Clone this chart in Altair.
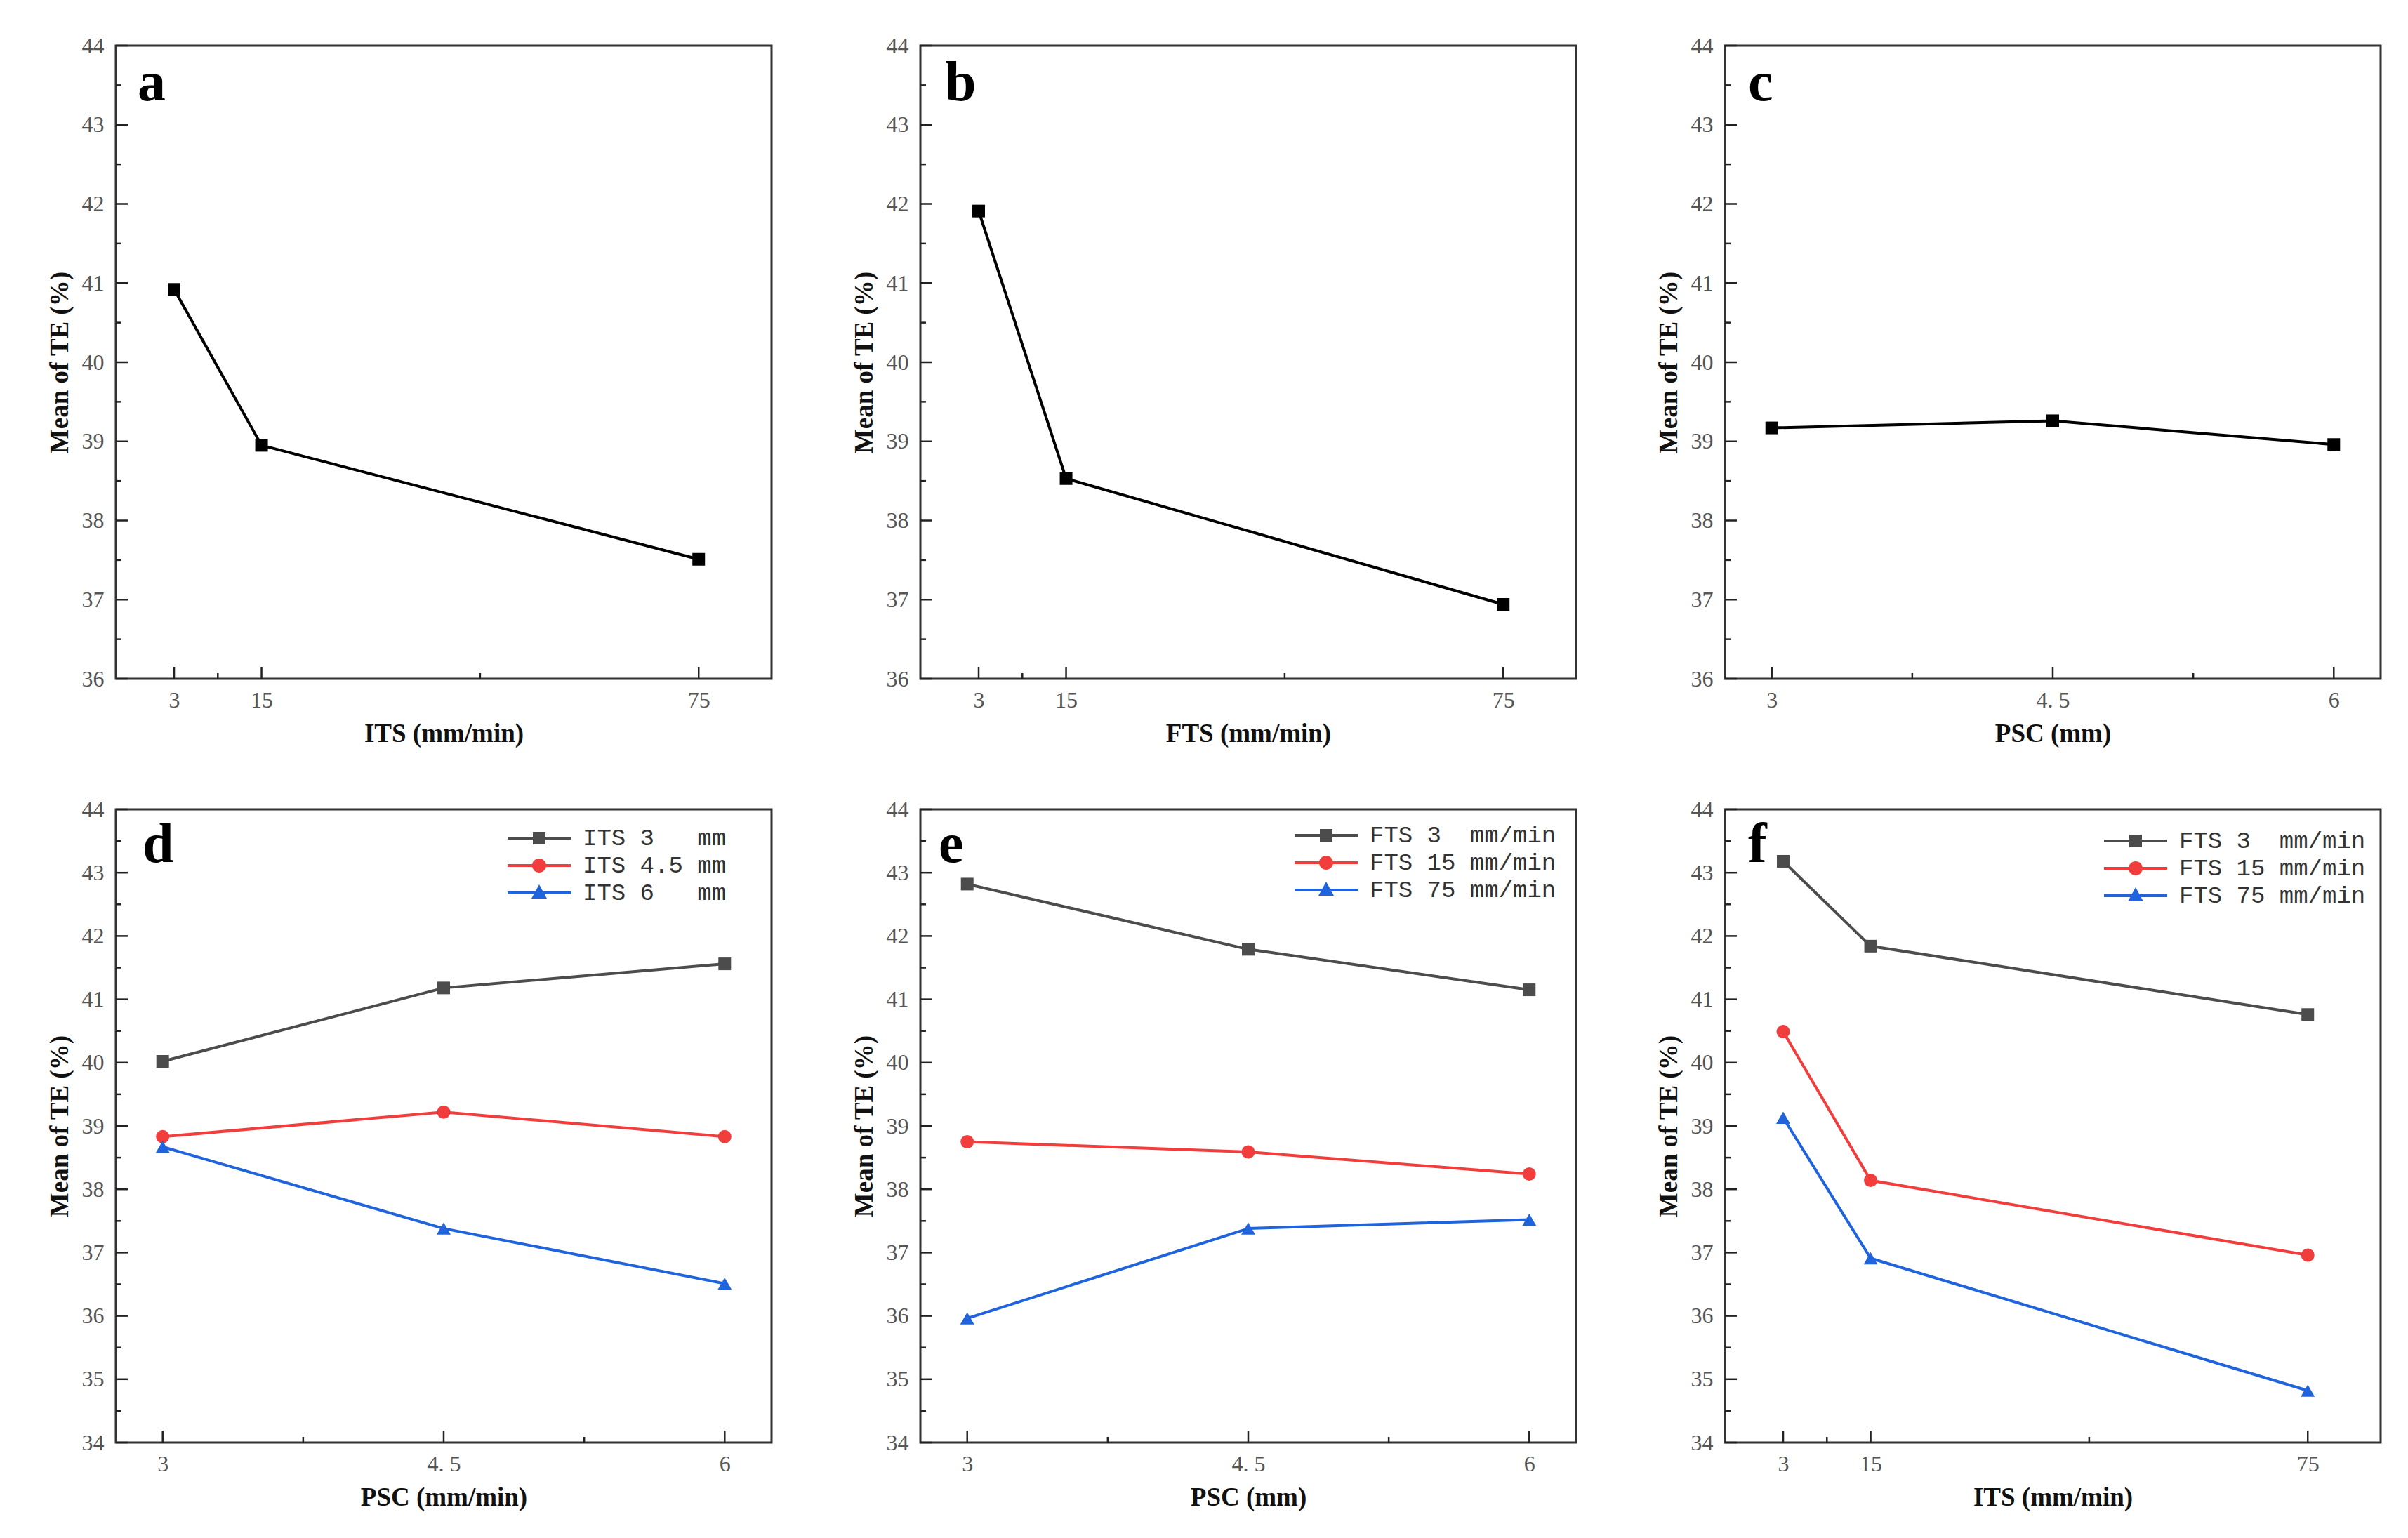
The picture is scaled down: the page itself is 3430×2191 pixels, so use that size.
import altair as alt
import pandas as pd

# ---------------- data ----------------
its_x = [3, 15, 75]
psc_x = [3, 4.5, 6]

its_ticks = [3, 15, 75]
its_minor = [9, 45]
psc_ticks = [3, 4.5, 6]
psc_minor = [3.75, 5.25]

top_y_major = [36, 37, 38, 39, 40, 41, 42, 43, 44]
top_y_minor = [36.5, 37.5, 38.5, 39.5, 40.5, 41.5, 42.5, 43.5]
bot_y_major = [34, 35, 36, 37, 38, 39, 40, 41, 42, 43, 44]
bot_y_minor = [34.5, 35.5, 36.5, 37.5, 38.5, 39.5, 40.5, 41.5, 42.5, 43.5]

a_te = [40.92, 38.95, 37.51]
b_te = [41.91, 38.53, 36.94]
c_te = [39.17, 39.26, 38.96]

NB = "\u00a0"
d_names = ["ITS" + NB + "3" + NB * 3 + "mm",
           "ITS" + NB + "4.5" + NB + "mm",
           "ITS" + NB + "6" + NB * 3 + "mm"]
d_its3 = [40.02, 41.18, 41.56]
d_its45 = [38.83, 39.22, 38.83]
d_its6 = [38.67, 37.38, 36.51]

ef_names = ["FTS" + NB + "3" + NB * 2 + "mm/min",
            "FTS" + NB + "15" + NB + "mm/min",
            "FTS" + NB + "75" + NB + "mm/min"]
e_fts3 = [42.82, 41.79, 41.15]
e_fts15 = [38.75, 38.59, 38.24]
e_fts75 = [35.96, 37.38, 37.52]

f_fts3 = [43.18, 41.84, 40.76]
f_fts15 = [40.49, 38.14, 36.96]
f_fts75 = [39.13, 36.91, 34.82]

series_colors = ["#4c4c4c", "#f23d3d", "#1f64dc"]
marker_shapes = ["square", "circle", "triangle-up"]
marker_sizes = [324, 400, 460]
LINE = "M-4.5,-0.2H4.5V0.2H-4.5Z "
legend_paths = [
    LINE + "M-0.9,-0.9H0.9V0.9H-0.9Z",
    LINE + "M-1,0A1,1 0 1,1 1,0A1,1 0 1,1 -1,0Z",
    LINE + "M0,-1.2L1.1,0.8L-1.1,0.8Z",
]

W, H = 934, 902
FONT = "Liberation Serif"
LABEL_EXPR = "datum.value == 4.5 ? '4. 5' : datum.label"


def panel(letter, letter_dx, letter_dy, xvals, x_domain, x_ticks, x_minor, x_title,
          y_domain, y_major, y_minor, series_vals, names=None, legend_xy=None):
    xscale = alt.Scale(domain=x_domain, nice=False, zero=False)
    yscale = alt.Scale(domain=y_domain, nice=False, zero=False)
    xaxis = alt.Axis(values=x_ticks, title=x_title, labelExpr=LABEL_EXPR)
    yaxis = alt.Axis(values=y_major, title="Mean of TE (%)", format="d")
    X = alt.X("x:Q", scale=xscale, axis=xaxis)
    Y = alt.Y("y:Q", scale=yscale, axis=yaxis)

    layers = []
    # inward ticks
    layers.append(alt.Chart(pd.DataFrame({"y": y_major})).mark_rule(color="#222", strokeWidth=2.5)
                  .encode(y=Y, x=alt.value(0), x2=alt.value(17)))
    layers.append(alt.Chart(pd.DataFrame({"y": y_minor})).mark_rule(color="#222", strokeWidth=2.5)
                  .encode(y=Y, x=alt.value(0), x2=alt.value(8)))
    layers.append(alt.Chart(pd.DataFrame({"x": x_ticks})).mark_rule(color="#222", strokeWidth=2.5)
                  .encode(x=X, y=alt.value(H), y2=alt.value(H - 17)))
    layers.append(alt.Chart(pd.DataFrame({"x": x_minor})).mark_rule(color="#222", strokeWidth=2.5)
                  .encode(x=X, y=alt.value(H), y2=alt.value(H - 8)))

    if names is None:
        df = pd.DataFrame({"x": xvals, "y": series_vals[0]})
        layers.append(alt.Chart(df).mark_line(color="black", strokeWidth=4).encode(x=X, y=Y))
        layers.append(alt.Chart(df).mark_point(shape="square", filled=True, size=324,
                                               color="black", opacity=1).encode(x=X, y=Y))
        ch = alt.layer(*layers)
    else:
        rows = []
        for n, vals in zip(names, series_vals):
            for xv, yv in zip(xvals, vals):
                rows.append({"x": xv, "y": yv, "series": n})
        df = pd.DataFrame(rows)
        cscale = alt.Scale(domain=names, range=series_colors)
        layers.append(alt.Chart(df).mark_line(strokeWidth=4).encode(
            x=X, y=Y, color=alt.Color("series:N", scale=cscale, legend=None)))
        layers.append(alt.Chart(df).mark_point(filled=True, opacity=1).encode(
            x=X, y=Y,
            color=alt.Color("series:N", scale=cscale, legend=None),
            shape=alt.Shape("series:N", scale=alt.Scale(domain=names, range=marker_shapes), legend=None),
            size=alt.Size("series:N", scale=alt.Scale(domain=names, range=marker_sizes), legend=None)))
        leg = alt.Legend(title=None, orient="none", legendX=legend_xy[0], legendY=legend_xy[1],
                         labelFont="Liberation Mono", labelFontSize=34, labelColor="#333",
                         labelOffset=45, labelLimit=600, symbolSize=400, symbolStrokeWidth=0,
                         rowPadding=5, padding=0)
        layers.append(alt.Chart(df).transform_filter("false").mark_point(filled=True, opacity=1, size=400)
                      .encode(x=X, y=Y,
                              color=alt.Color("series:N", scale=alt.Scale(domain=names, range=series_colors), legend=leg),
                              shape=alt.Shape("series:N", scale=alt.Scale(domain=names, range=legend_paths), legend=leg)))
        ch = alt.layer(*layers).resolve_scale(color="independent", shape="independent", size="independent")

    return ch.properties(
        width=W, height=H,
        title=alt.Title(letter, anchor="start", orient="top", frame="group", offset=0,
                        dx=letter_dx, dy=letter_dy, baseline="alphabetic",
                        font=FONT, fontSize=80, fontWeight="bold", color="black"),
    )


DY_TOP = 174
DY_BOT = 171
pa = panel("a", 31, DY_TOP, its_x, [-5, 85], its_ticks, its_minor, "ITS (mm/min)",
           [36, 44], top_y_major, top_y_minor, [a_te])
pb = panel("b", 35, DY_TOP, its_x, [-5, 85], its_ticks, its_minor, "FTS (mm/min)",
           [36, 44], top_y_major, top_y_minor, [b_te])
pc = panel("c", 33, DY_TOP, psc_x, [2.75, 6.25], psc_ticks, psc_minor, "PSC (mm)",
           [36, 44], top_y_major, top_y_minor, [c_te])
pd_ = panel("d", 38, DY_BOT, psc_x, [2.75, 6.25], psc_ticks, psc_minor, "PSC (mm/min)",
            [34, 44], bot_y_major, bot_y_minor, [d_its3, d_its45, d_its6], d_names, (586, 24))
pe = panel("e", 26, DY_BOT, psc_x, [2.75, 6.25], psc_ticks, psc_minor, "PSC (mm)",
           [34, 44], bot_y_major, bot_y_minor, [e_fts3, e_fts15, e_fts75], ef_names, (561, 20))
pf = panel("f", 33, DY_BOT, its_x, [-5, 85], its_ticks, its_minor, "ITS (mm/min)",
           [34, 44], bot_y_major, bot_y_minor, [f_fts3, f_fts15, f_fts75], ef_names, (568, 28))

chart = alt.concat(
    pa, pb, pc, pd_, pe, pf, columns=3,
    spacing=alt.RowColnumber(row=186, column=212), bounds="flush",
).properties(
    padding={"left": 56, "top": 39, "right": 10, "bottom": 10}
).configure_view(
    stroke="#333333", strokeWidth=3
).configure_axis(
    domain=False, ticks=False, tickSize=0, grid=False,
    labelFont=FONT, labelFontSize=32, labelColor="#555555",
    titleFont=FONT, titleFontSize=37, titleFontWeight="bold", titleColor="#111111",
).configure_axisX(
    labelPadding=15, titlePadding=14
).configure_axisY(
    labelPadding=17, titlePadding=12
)

chart.save("out.html", embed_options={"renderer": "svg", "actions": False})
